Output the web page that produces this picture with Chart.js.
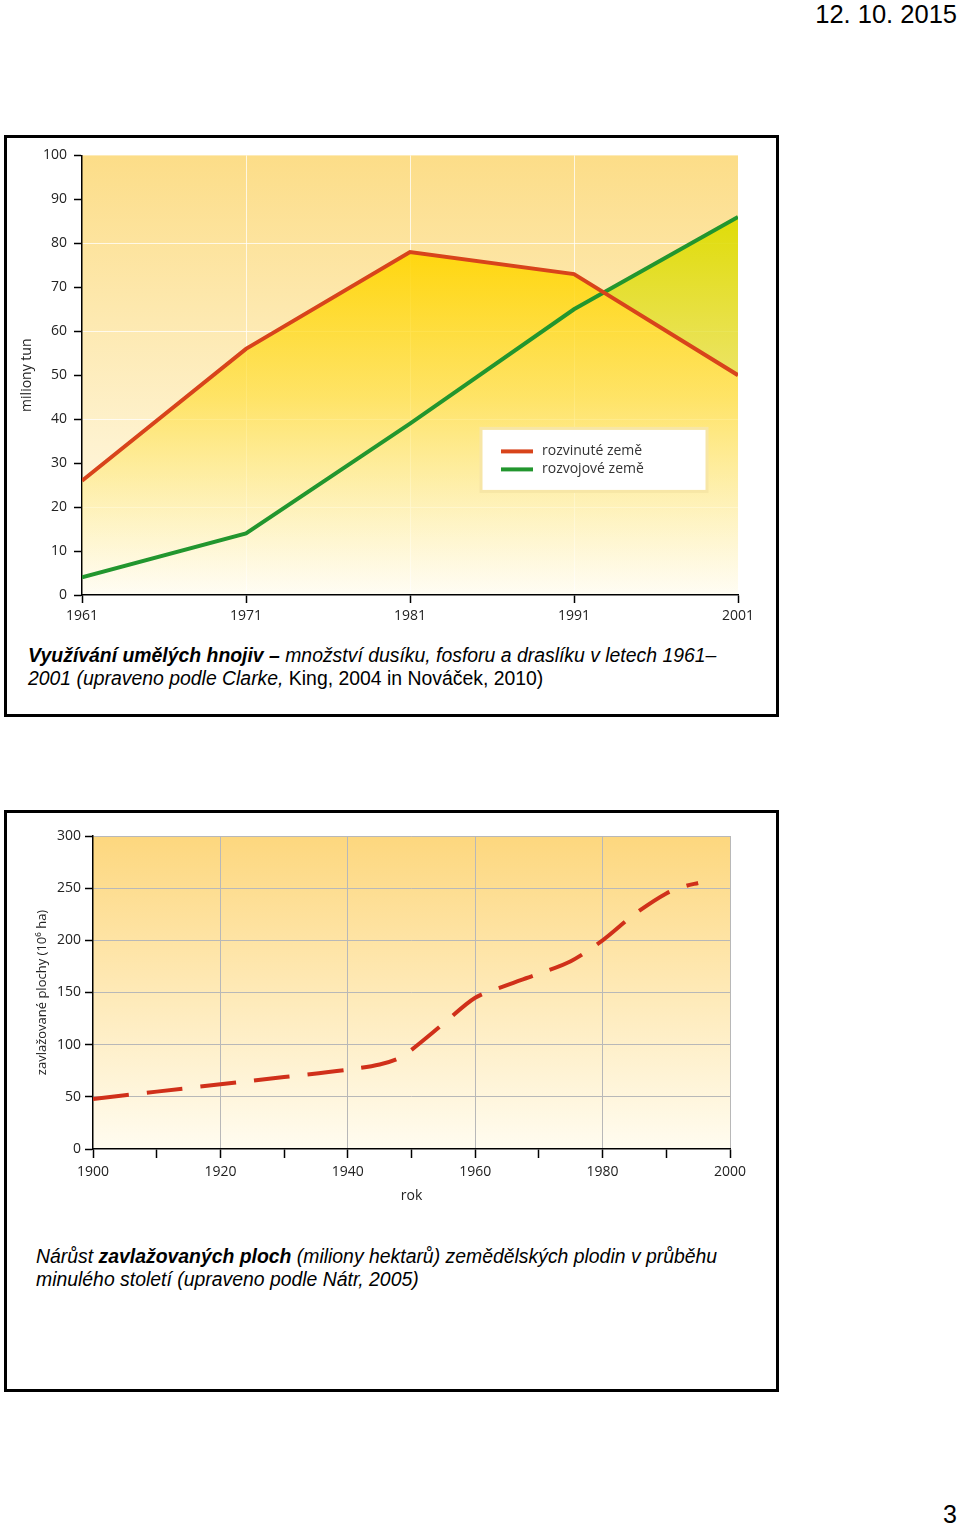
<!DOCTYPE html>
<html>
<head>
<meta charset="utf-8">
<script src="https://cdn.jsdelivr.net/npm/chart.js"></script>
<style>
  html, body { margin: 0; padding: 0; background: #fff; }
  #page { position: relative; width: 960px; height: 1527px; overflow: hidden; font-family: 'Liberation Sans', Arial, sans-serif; color: #000; }
  .frame { position: absolute; box-sizing: border-box; border: 3px solid #000; }
  .caption { position: absolute; font-size: 19.4px; line-height: 23px; font-style: italic; white-space: nowrap; }
  .caption b { font-weight: bold; }
  .caption .up { font-style: normal; }
  canvas { position: absolute; }
  #date { position: absolute; right: 3px; top: 0px; font-size: 25.5px; }
  #pageno { position: absolute; right: 3px; top: 1500px; font-size: 25px; }
</style>
</head>
<body>
<div id="page">
  <div id="date">12. 10. 2015</div>

  <div class="frame" style="left:4px; top:135px; width:775px; height:582px;"></div>
  <canvas id="fertChart" width="770" height="500" style="left:6px; top:140px;"></canvas>
  <div class="caption" style="left:28px; top:644px;"><b>Využívání umělých hnojiv –</b> množství dusíku, fosforu a draslíku v letech 1961–<br>2001 (upraveno podle Clarke,<span class="up"> King, 2004 in Nováček, 2010)</span></div>

  <div class="frame" style="left:4px; top:810px; width:775px; height:582px;"></div>
  <canvas id="irrChart" width="770" height="400" style="left:6px; top:815px;"></canvas>
  <div class="caption" style="left:36px; top:1245px;">Nárůst <b>zavlažovaných ploch</b> (miliony hektarů) zemědělských plodin v průběhu<br>minulého století (upraveno podle Nátr, 2005)</div>

  <div id="pageno">3</div>
</div>

<script>
// --- data: fertilizer use (miliony tun) ---
const fertYears = [1961, 1971, 1981, 1991, 2001];
const developed = [26, 56, 78, 73, 50];
const developing = [4, 14, 39, 65, 86];
const fertLabels = ['rozvinuté země', 'rozvojové země'];

// --- data: irrigated area (10^6 ha) ---
const irrYears = [1900, 1910, 1920, 1930, 1940, 1945, 1948, 1950, 1955, 1960, 1965, 1970, 1975, 1980, 1985, 1990, 1993, 1995];
const irrigated = [48, 55, 62, 69, 76, 81, 87, 95, 120, 145, 157, 168, 180, 200, 225, 245, 252, 255];

Chart.defaults.font.family = "'Open Sans', sans-serif";
Chart.defaults.color = '#222';
Chart.defaults.animation = false;

// plot background gradient, drawn before grid
function bgPlugin(top, bottom) {
    return {
        id: 'plotBg',
        beforeDraw(chart) {
            const a = chart.chartArea;
            if (!a) return;
            const ctx = chart.ctx;
            const g = ctx.createLinearGradient(0, a.top, 0, a.bottom);
            g.addColorStop(0, top);
            g.addColorStop(1, bottom);
            ctx.save();
            ctx.fillStyle = g;
            ctx.fillRect(a.left, a.top, a.right - a.left, a.bottom - a.top);
            ctx.restore();
        }
    };
}

// legend box inside the plot
const legendBox = {
    id: 'legendBox',
    afterDatasetsDraw(chart) {
        const {ctx, chartArea} = chart;
        const x = chartArea.left + 399, y = chartArea.top + 273;
        ctx.save();
        ctx.fillStyle = '#ffffff';
        ctx.fillRect(x, y, 226, 63);
        ctx.strokeStyle = '#f7e6a6';
        ctx.lineWidth = 3;
        ctx.strokeRect(x, y, 226, 63);
        chart.data.datasets.forEach((ds, i) => {
            const ly = y + 23 + i * 18;
            ctx.strokeStyle = ds.borderColor;
            ctx.lineWidth = 4;
            ctx.beginPath();
            ctx.moveTo(x + 20, ly);
            ctx.lineTo(x + 52, ly);
            ctx.stroke();
            ctx.fillStyle = '#333';
            ctx.font = "14px 'Open Sans', sans-serif";
            ctx.textBaseline = 'middle';
            ctx.fillText(ds.label, x + 61, ly);
        });
        ctx.restore();
    }
};

function vGrad(chart, yScaleId, stops) {
    const a = chart.chartArea;
    if (!a) return 'rgba(0,0,0,0)';
    const s = chart.scales[yScaleId];
    const g = chart.ctx.createLinearGradient(0, s.getPixelForValue(stops[0][0]), 0, s.getPixelForValue(stops[stops.length - 1][0]));
    const span = stops[stops.length - 1][0] - stops[0][0];
    stops.forEach(([v, c]) => g.addColorStop((v - stops[0][0]) / span, c));
    return g;
}

new Chart(document.getElementById('fertChart'), {
    type: 'line',
    data: {
        datasets: [{
            label: fertLabels[0],
            data: fertYears.map((x, i) => ({x, y: developed[i]})),
            borderColor: '#d8441b',
            borderWidth: 4,
            pointRadius: 0,
            tension: 0,
            fill: 'origin',
            backgroundColor: ctx => vGrad(ctx.chart, 'y', [
                [82, 'rgba(255,213,0,0.97)'],
                [45, 'rgba(255,220,40,0.6)'],
                [0, 'rgba(255,235,120,0)']
            ])
        }, {
            label: fertLabels[1],
            data: fertYears.map((x, i) => ({x, y: developing[i]})),
            borderColor: '#22962e',
            borderWidth: 4,
            pointRadius: 0,
            tension: 0,
            fill: {target: 0, below: 'rgba(0,0,0,0)'},
            backgroundColor: ctx => vGrad(ctx.chart, 'y', [
                [86, 'rgba(222,220,0,0.95)'],
                [50, 'rgba(228,224,60,0.7)']
            ])
        }]
    },
    options: {
        responsive: false,
        layout: { padding: { top: 15, right: 38, left: 0, bottom: 0 } },
        plugins: { legend: { display: false }, tooltip: { enabled: false }, filler: { drawTime: 'beforeDatasetsDraw' } },
        scales: {
            x: {
                type: 'linear',
                min: 1961, max: 2001,
                afterFit: s => { s.height = 45; },
                ticks: { stepSize: 10, padding: 5, font: { size: 14 }, color: '#222', callback: v => String(v) },
                grid: {
                    color: c => (c.tick && (c.tick.value === 1961 || c.tick.value === 2001)) ? 'rgba(0,0,0,0)' : 'rgba(255,255,255,0.75)',
                    tickColor: '#000', tickLength: 8, tickWidth: 1.5, lineWidth: 1
                },
                border: { color: '#000', width: 1.5 }
            },
            y: {
                min: 0, max: 100,
                afterFit: s => { s.width = 76; },
                ticks: { stepSize: 10, padding: 7, font: { size: 14 }, color: '#222' },
                grid: {
                    color: c => (c.tick && c.tick.value % 20 === 0 && c.tick.value > 0 && c.tick.value < 100) ? 'rgba(255,255,255,0.75)' : 'rgba(0,0,0,0)',
                    tickColor: '#000', tickLength: 8, tickWidth: 1.5, lineWidth: 1
                },
                border: { color: '#000', width: 1.5 },
                title: { display: true, text: 'miliony tun', font: { size: 14 }, color: '#222', padding: { top: 13 } }
            }
        }
    },
    plugins: [bgPlugin('#fcdd88', '#fffdf4'), legendBox]
});

new Chart(document.getElementById('irrChart'), {
    type: 'line',
    data: {
        datasets: [{
            data: irrYears.map((x, i) => ({x, y: irrigated[i]})),
            borderColor: '#d0301a',
            borderWidth: 4,
            borderDash: [36, 18],
            pointRadius: 0,
            tension: 0.3,
            fill: false
        }]
    },
    options: {
        responsive: false,
        layout: { padding: { top: 21, right: 46, left: 0, bottom: 0 } },
        plugins: { legend: { display: false }, tooltip: { enabled: false } },
        scales: {
            x: {
                type: 'linear',
                min: 1900, max: 2000,
                afterFit: s => { s.height = 66; },
                ticks: { stepSize: 10, padding: 6, font: { size: 14 }, color: '#222', autoSkip: false, maxRotation: 0,
                    callback: v => (v % 20 === 0 ? String(v) : '') },
                grid: {
                    color: c => (c.tick && c.tick.value % 20 === 0 && c.tick.value > 1900) ? '#b8b8b8' : 'rgba(0,0,0,0)',
                    tickColor: '#000', tickLength: 9, tickWidth: 1.5, lineWidth: 1
                },
                border: { color: '#000', width: 1.5 },
                title: { display: true, text: 'rok', font: { size: 14 }, color: '#222', padding: { bottom: 11 } }
            },
            y: {
                min: 0, max: 300,
                afterFit: s => { s.width = 87; },
                ticks: { stepSize: 50, padding: 4, font: { size: 14 }, color: '#222' },
                grid: {
                    color: c => (c.tick && c.tick.value > 0) ? '#b8b8b8' : 'rgba(0,0,0,0)',
                    tickColor: '#000', tickLength: 8, tickWidth: 1.5, lineWidth: 1
                },
                border: { color: '#000', width: 1.5 },
                title: { display: true, text: 'zavlažované plochy (10⁶ ha)', font: { size: 13 }, color: '#222', padding: { top: 28 } }
            }
        }
    },
    plugins: [bgPlugin('#fdd77e', '#fffcf0')]
});
</script>
</body>
</html>
